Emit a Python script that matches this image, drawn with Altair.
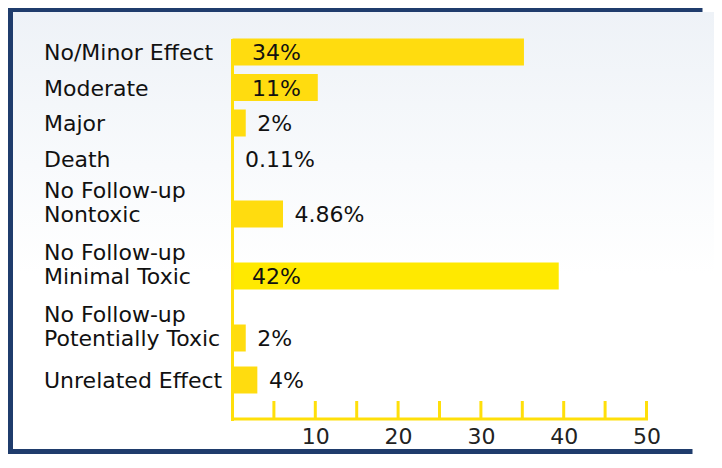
import altair as alt
import pandas as pd

categories = [
    "No/Minor Effect",
    "Moderate",
    "Major",
    "Death",
    "No Follow-up\nNontoxic",
    "No Follow-up\nMinimal Toxic",
    "No Follow-up\nPotentially Toxic",
    "Unrelated Effect",
]
bar_values = [35.2, 10.3, 1.6, 0.11, 6.1, 39.4, 1.6, 3.0]
value_labels = ["34%", "11%", "2%", "0.11%", "4.86%", "42%", "2%", "4%"]
tick_values = [5, 10, 15, 20, 25, 30, 35, 40, 45, 50]
axis_label_values = [10, 20, 30, 40, 50]

df = pd.DataFrame({
    "idx": list(range(len(categories))),
    "category": categories,
    "value": bar_values,
    "vlabel": value_labels,
})

FONT = "DejaVu Sans"
YELLOW = "#FFDF0A"
NAVY = "#1f3c6c"
W, H = 414, 381

xscale = alt.Scale(domain=[0, 50], nice=False, zero=True, padding=0)
xaxis = alt.Axis(values=axis_label_values, domain=False, ticks=False, grid=False,
                 labelPadding=6, labelFontSize=22, labelColor="#222222",
                 labelFont=FONT, title=None, labelFlush=False, zindex=2)
yscale = alt.Scale(domain=[-13, 368], reverse=True, nice=False, zero=False, padding=0)


def xenc(field):
    return alt.X(field, type="quantitative", scale=xscale, axis=xaxis, title=None)


def yenc():
    return alt.Y("pos:Q", scale=yscale, axis=None)


base = alt.Chart(df).transform_calculate(
    parts="split(datum.category, '\\n')"
).transform_calculate(
    lines="length(datum.parts)",
    last_line="peek(datum.parts)",
    first_line="length(datum.parts) > 1 ? datum.parts[0] : ''",
).transform_window(
    prev_lines="lag(lines)", sort=[alt.SortField("idx")]
).transform_calculate(
    gap="datum.idx == 0 ? 0 : 35.5 + 20 * (datum.lines - 1) + 6.5 * (datum.prev_lines - 1)"
).transform_window(
    pos="sum(gap)", sort=[alt.SortField("idx")], frame=[None, 0]
).transform_calculate(
    label_x="datum.value >= 8 ? 2.35 : datum.value + 1.4"
)

one = alt.Data(values=[{"a": 1}])

bg = alt.Chart(one).mark_rect(
    fill=alt.Gradient(
        gradient="linear",
        stops=[alt.GradientStop(color="#eef2f7", offset=0),
               alt.GradientStop(color="#f8fafc", offset=0.35),
               alt.GradientStop(color="#ffffff", offset=0.6)],
        x1=0, x2=0, y1=0, y2=1,
    )
).encode(x=alt.value(-219.5), x2=alt.value(481.5), y=alt.value(-27), y2=alt.value(410))

frame_top = alt.Chart(one).mark_rule(color=NAVY, strokeWidth=4).encode(
    x=alt.value(-224.5), x2=alt.value(470), y=alt.value(-29))
frame_left = alt.Chart(one).mark_rule(color=NAVY, strokeWidth=5).encode(
    x=alt.value(-222), y=alt.value(-31), y2=alt.value(415))
frame_bottom = alt.Chart(one).mark_rule(color=NAVY, strokeWidth=5).encode(
    x=alt.value(-224.5), x2=alt.value(460), y=alt.value(412.5))

bars = base.mark_bar(orient="horizontal", size=27).encode(
    x=xenc("value"),
    y=yenc(),
    color=alt.when(alt.datum.value > 39).then(alt.value("#FFE900")).otherwise(alt.value("#FFDC0F")),
)

cat_last = base.mark_text(align="left", baseline="middle", dy=1, fontSize=22,
                          font=FONT, color="#111111").encode(
    x=alt.value(-188.5),
    y=yenc(),
    text="last_line:N",
)
cat_first = base.mark_text(align="left", baseline="middle", dy=-23, fontSize=22,
                           font=FONT, color="#111111").encode(
    x=alt.value(-188.5),
    y=yenc(),
    text="first_line:N",
)

val_text = base.mark_text(align="left", baseline="middle", dy=1, fontSize=22,
                          font=FONT, color="#111111").encode(
    x=xenc("label_x"),
    y=yenc(),
    text="vlabel:N",
)

ticks = alt.Chart(pd.DataFrame({"t": tick_values})).mark_rule(color=YELLOW, strokeWidth=3).encode(
    x=xenc("t"), y=alt.value(362), y2=alt.value(381))

x_line = alt.Chart(one).mark_rule(color=YELLOW, strokeWidth=3).encode(
    x=alt.value(-1.5), x2=alt.value(415.5), y=alt.value(380))
y_line = alt.Chart(one).mark_rule(color=YELLOW, strokeWidth=3).encode(
    x=alt.value(0), y=alt.value(0), y2=alt.value(382))

chart = alt.layer(
    bg, frame_top, frame_left, frame_bottom, bars, ticks, x_line, y_line,
    cat_last, cat_first, val_text
).properties(
    width=W, height=H,
    padding={"left": 224.5, "top": 31, "right": 67.5, "bottom": 34},
    autosize=alt.AutoSizeParams(type="none"),
    background="white",
).configure_view(stroke=None)

chart.save("out.html", embed_options={"renderer": "svg", "actions": False})
